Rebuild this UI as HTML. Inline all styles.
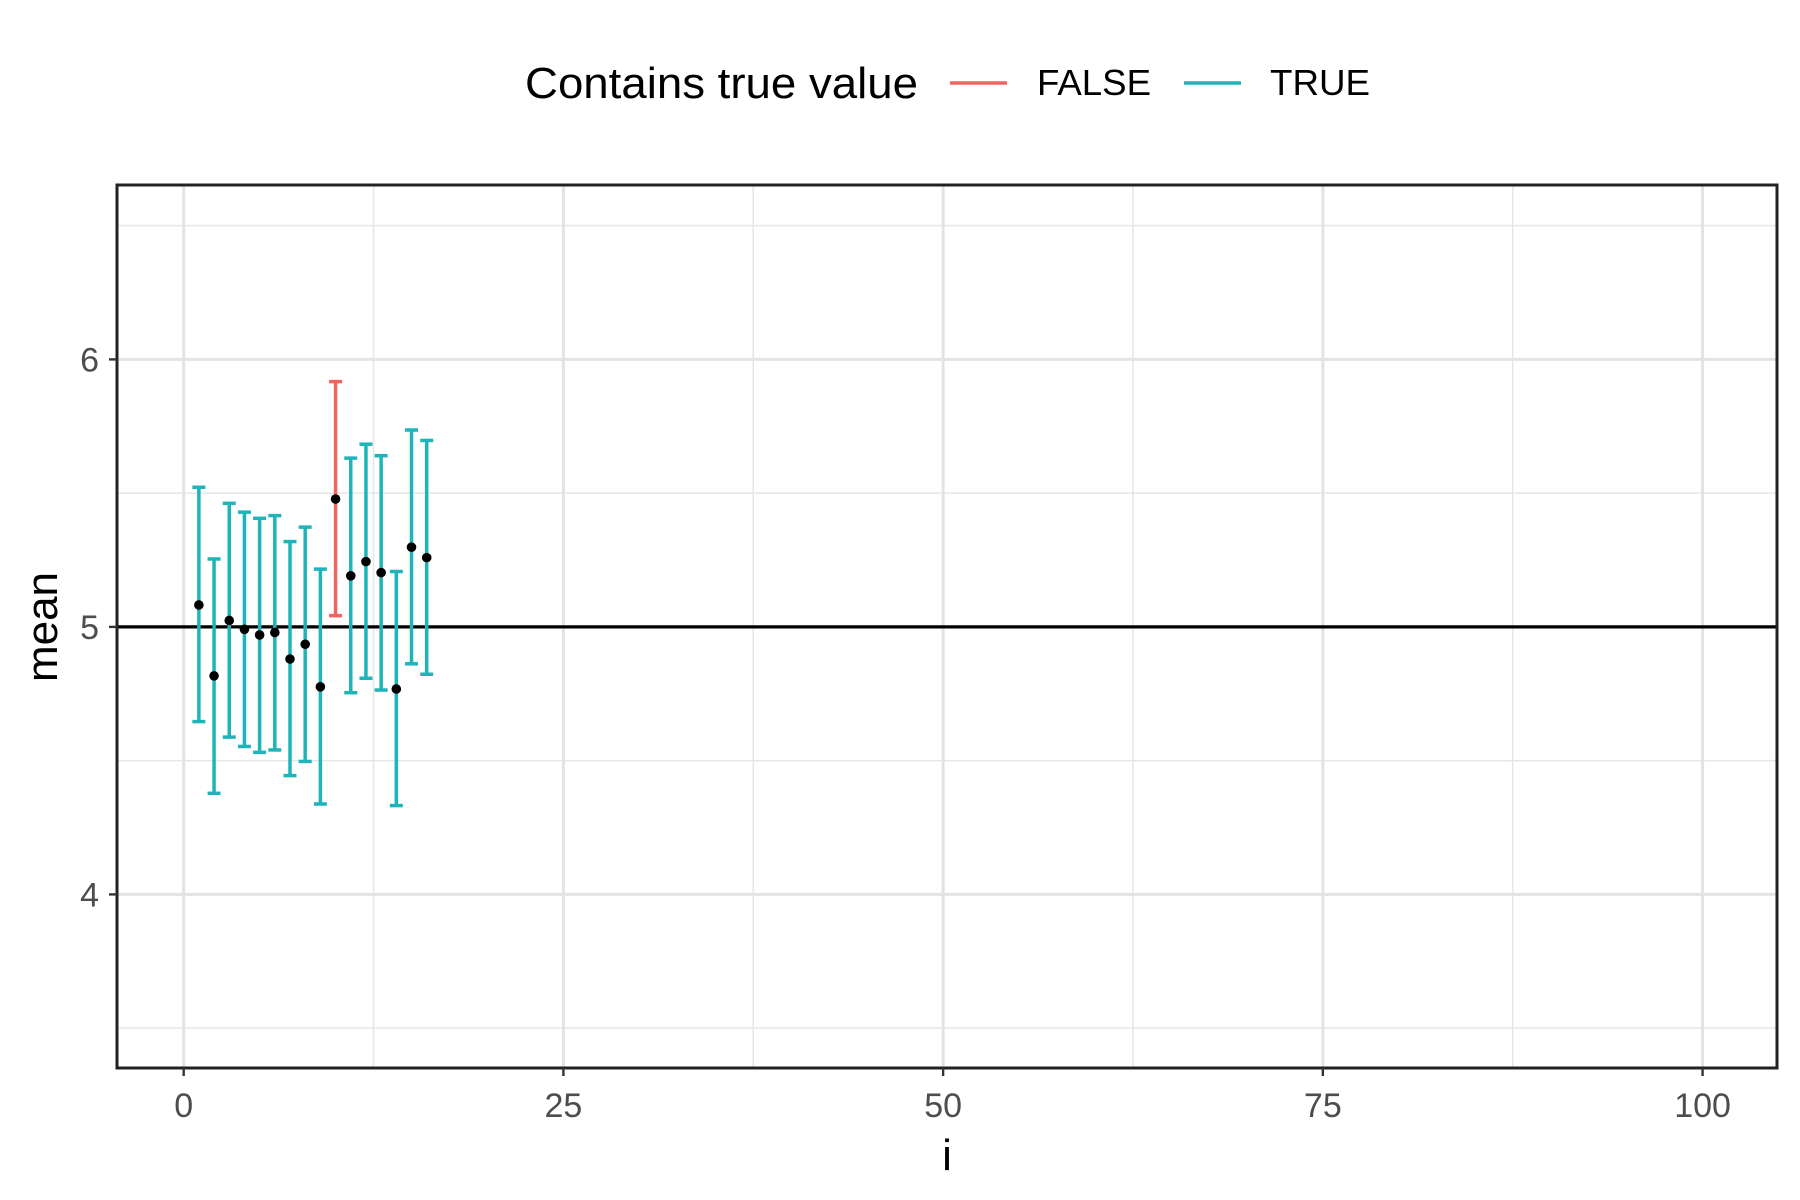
<!DOCTYPE html>
<html><head><meta charset="utf-8"><style>body{margin:0;background:#fff}svg{display:block;font-family:"Liberation Sans",Arial,sans-serif}</style></head>
<body>
<svg id="chart" width="1800" height="1200" viewBox="0 0 1800 1200">
<rect width="1800" height="1200" fill="#fff"/>
<g id="grid"></g><g id="marks"></g><g id="axes"></g>
<g>
<text x="525" y="98" font-size="44" fill="#000" textLength="393" lengthAdjust="spacingAndGlyphs">Contains true value</text>
<line x1="950" x2="1007" y1="83" y2="83" stroke="#F0655E" stroke-width="3.5"/>
<text x="1037" y="95" font-size="36" fill="#000" textLength="114" lengthAdjust="spacingAndGlyphs">FALSE</text>
<line x1="1184" x2="1241" y1="83" y2="83" stroke="#1DB5B9" stroke-width="3.5"/>
<text x="1270" y="95" font-size="36" fill="#000" textLength="100" lengthAdjust="spacingAndGlyphs">TRUE</text>
</g>
</svg>
<script>
const idx=[1,2,3,4,5,6,7,8,9,10,11,12,13,14,15,16];
const means=[5.082,4.817,5.024,4.991,4.970,4.979,4.880,4.935,4.776,5.478,5.191,5.244,5.203,4.768,5.298,5.259];
const lowers=[4.646,4.378,4.588,4.553,4.531,4.540,4.444,4.497,4.338,5.042,4.754,4.808,4.764,4.332,4.862,4.823];
const uppers=[5.522,5.254,5.462,5.429,5.406,5.416,5.319,5.373,5.216,5.917,5.631,5.683,5.640,5.207,5.736,5.697];
const xTicks=[0,25,50,75,100];
const xMinor=[12.5,37.5,62.5,87.5];
const yTicks=[4,5,6];
const yMinor=[3.5,4.5,5.5,6.5];
const trueValue=5;
const L=117,R=1777,T=185,B=1068;
const xMin=-4.39,xMax=104.9,yMin=3.351,yMax=6.652;
const sx=v=>L+(v-xMin)/(xMax-xMin)*(R-L);
const sy=v=>B-(v-yMin)/(yMax-yMin)*(B-T);
const NS='http://www.w3.org/2000/svg';
function mk(tag,parent,attrs){const e=document.createElementNS(NS,tag);for(const k in attrs)e.setAttribute(k,attrs[k]);parent.appendChild(e);return e;}
const grid=document.getElementById('grid'),marks=document.getElementById('marks'),axes=document.getElementById('axes');
yMinor.forEach(v=>{const e=mk('line',grid,{x1:L,x2:R,y1:sy(v),y2:sy(v),stroke:'#e6e6e6','stroke-width':1.5});

});
xMinor.forEach(v=>{const e=mk('line',grid,{x1:sx(v),x2:sx(v),y1:T,y2:B,stroke:'#e6e6e6','stroke-width':1.5});

});
yTicks.forEach(v=>{const e=mk('line',grid,{x1:L,x2:R,y1:sy(v),y2:sy(v),stroke:'#e3e3e3','stroke-width':3});

});
xTicks.forEach(v=>{const e=mk('line',grid,{x1:sx(v),x2:sx(v),y1:T,y2:B,stroke:'#e3e3e3','stroke-width':3});

});
const h=mk('line',marks,{x1:L,x2:R,y1:sy(trueValue),y2:sy(trueValue),stroke:'#000','stroke-width':3.2});


idx.forEach((x,i)=>{
 const ok=lowers[i]<=trueValue&&uppers[i]>=trueValue;
 const c=ok?'#1DB5B9':'#F0655E';
 const g=mk('g',marks,{});
 
 
 const X=sx(x),w=6.5;
 mk('line',g,{x1:X,x2:X,y1:sy(lowers[i]),y2:sy(uppers[i]),stroke:c,'stroke-width':3.5});
 mk('line',g,{x1:X-w,x2:X+w,y1:sy(lowers[i]),y2:sy(lowers[i]),stroke:c,'stroke-width':3.5});
 mk('line',g,{x1:X-w,x2:X+w,y1:sy(uppers[i]),y2:sy(uppers[i]),stroke:c,'stroke-width':3.5});
});
idx.forEach((x,i)=>{const p=mk('circle',marks,{cx:sx(x),cy:sy(means[i]),r:4.8,fill:'#000'});

});
const pb=mk('rect',axes,{x:L,y:T,width:R-L,height:B-T,fill:'none',stroke:'#222','stroke-width':3});


xTicks.forEach(v=>{mk('line',axes,{x1:sx(v),x2:sx(v),y1:B,y2:B+8,stroke:'#333','stroke-width':2.4});
const t=mk('text',axes,{x:sx(v),y:1117,'text-anchor':'middle','font-size':34,fill:'#4d4d4d'});t.textContent=v;

});
yTicks.forEach(v=>{mk('line',axes,{x1:L-8,x2:L,y1:sy(v),y2:sy(v),stroke:'#333','stroke-width':2.4});
const t=mk('text',axes,{x:99,y:sy(v)+12,'text-anchor':'end','font-size':34,fill:'#4d4d4d'});t.textContent=v;

});
const xt=mk('text',axes,{x:947,y:1170,'text-anchor':'middle','font-size':44,fill:'#000'});xt.textContent='i';


const yt=mk('text',axes,{x:0,y:0,'text-anchor':'middle','font-size':44,fill:'#000',transform:'translate(57,627) rotate(-90)'});yt.textContent='mean';


</script>
</body></html>
